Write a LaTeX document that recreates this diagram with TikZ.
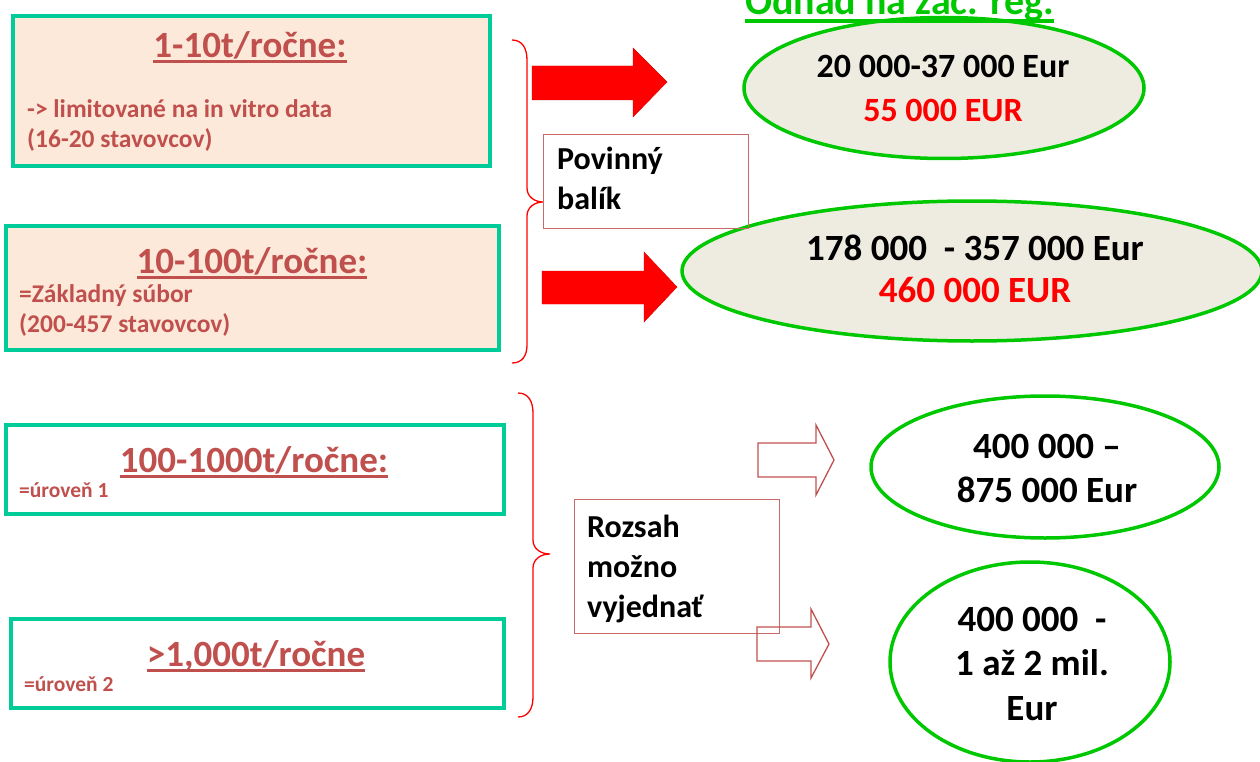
\documentclass[tikz,border=0pt]{standalone}
\usepackage{fontspec}
\setmainfont{Carlito}
\usetikzlibrary{shapes.geometric}
\definecolor{boxgreen}{RGB}{0,204,153}
\definecolor{boxfill}{RGB}{253,233,217}
\definecolor{brick}{RGB}{192,80,77}
\definecolor{ellfill}{RGB}{238,236,225}
\definecolor{ellgreen}{RGB}{0,200,0}
\definecolor{arrred}{RGB}{255,0,0}
\tikzset{
  tonbox/.style={draw=boxgreen, line width=4pt, fill=boxfill, inner sep=0pt, anchor=north west},
  tonbox2/.style={draw=boxgreen, line width=4pt, fill=white, inner sep=0pt, anchor=north west},
  ttl/.style={font=\bfseries\fontsize{37}{41}\selectfont, text=brick, inner sep=0pt, anchor=base},
  subtx/.style={font=\bfseries\fontsize{25.5}{29}\selectfont, text=brick, inner sep=0pt, anchor=base west},
  subsm/.style={font=\bfseries\fontsize{21.5}{25}\selectfont, text=brick, inner sep=0pt, anchor=base west},
  uline/.style={draw=brick, line width=3pt},
  brace/.style={draw=arrred, line width=1.3pt},
  ell/.style={ellipse, draw=ellgreen, line width=3.5pt, inner sep=0pt},
  etx/.style={font=\bfseries\fontsize{37}{41}\selectfont, text=black, inner sep=0pt, anchor=base},
  etxa/.style={font=\bfseries\fontsize{34}{38}\selectfont, text=black, inner sep=0pt, anchor=base},
  lbox/.style={draw=brick!85, line width=1.2pt, inner sep=0pt, anchor=north west},
  ltx/.style={font=\bfseries\fontsize{32}{36}\selectfont, text=black, inner sep=0pt, anchor=base west},
  redarrow/.style={fill=arrred, draw=arrred!85!black, line width=0.4pt},
  openarrow/.style={draw=brick, line width=1.3pt},
}
\begin{document}
\begin{tikzpicture}[x=1pt,y=-1pt]
\useasboundingbox (0,0) rectangle (1260,762);
% tonnage boxes
\node[tonbox, minimum width=477, minimum height=150] (b1) at (11,14) {};
\node[tonbox, minimum width=493, minimum height=124] (b2) at (4,224) {};
\node[tonbox2, minimum width=498, minimum height=89] (b3) at (4,423) {};
\node[tonbox2, minimum width=493, minimum height=89] (b4) at (9,617) {};
% titles
\node[ttl] (t1) at (250,58) {1-10t/ročne:};
\node[ttl] (t2) at (252,273) {10-100t/ročne:};
\node[ttl] (t3) at (254,472) {100-1000t/ročne:};
\node[ttl] (t4) at (256,666) {>1,000t/ročne};
\foreach \t in {t1,t2,t3,t4}{
  \draw[uline] ([yshift=-4pt]\t.base west) -- ([yshift=-4pt]\t.base east);
}
% sub texts
\node[subtx] (s1a) at (27,118) {-> limitované na in vitro data};
\node[subtx] (s1b) at (27,148) {(16-20 stavovcov)};
\node[subtx] (s2a) at (19,302) {=Základný súbor};
\node[subtx] (s2b) at (19,332) {(200-457 stavovcov)};
\node[subsm] (s3) at (19,497) {=úroveň 1};
\node[subsm] (s4) at (24,691) {=úroveň 2};
% braces
\draw[brace] (512,40) .. controls (522,40) and (527,48) .. (527,60) -- (527,188)
  .. controls (527,197) and (535,202) .. (543,202)
  .. controls (535,202) and (527,207) .. (527,216) -- (527,345)
  .. controls (527,356) and (522,363) .. (512,363);
\draw[brace] (518,393) .. controls (528,393) and (533,401) .. (533,413) -- (533,540)
  .. controls (533,549) and (541,554) .. (550,554)
  .. controls (541,554) and (533,559) .. (533,568) -- (533,697)
  .. controls (533,709) and (528,717) .. (518,717);
% ellipses
\node[ell, fill=ellfill, minimum width=400, minimum height=141] (e1) at (944,88) {};
\node[ell, fill=ellfill, minimum width=580, minimum height=140] (e2) at (972,271) {};
\node[ell, minimum width=348, minimum height=142] (e3) at (1045,467) {};
\node[ell, minimum width=280, minimum height=200] (e4) at (1030,662) {};
% label boxes
\node[lbox, minimum width=205, minimum height=94] (pb) at (543,134) {};
\node[lbox, minimum width=205, minimum height=134] (rz) at (574,499) {};
\node[ltx] (pb1) at (557,170) {Povinný};
\node[ltx] (pb2) at (557,210) {balík};
\node[ltx] (rz1) at (587,537) {Rozsah};
\node[ltx] (rz2) at (587,577) {možno};
\node[ltx] (rz3) at (587,617) {vyjednať};
% block arrows
\draw[redarrow] (532,66) -- (633,66) -- (633,48) -- (667,82) -- (633,117) -- (633,100) -- (532,100) -- cycle;
\draw[redarrow] (542,271) -- (644,271) -- (644,252) -- (677,287) -- (644,322) -- (644,304) -- (542,304) -- cycle;
\draw[openarrow] (758,443) -- (816,443) -- (816,425) -- (834,460) -- (816,495) -- (816,477) -- (758,477) -- cycle;
\draw[openarrow] (757,627) -- (811,627) -- (811,609) -- (829,644) -- (811,678) -- (811,661) -- (757,661) -- cycle;
% ellipse texts
\node[etxa] (e1a) at (943,78) {20 000-37 000 Eur};
\node[etxa, text=arrred] (e1b) at (943,122) {55 000 EUR};
\node[etx] (e2a) at (975,260) {178 000\ \ - 357 000 Eur};
\node[etx, text=arrred] (e2b) at (975,302) {460 000 EUR};
\node[etx] (e3a) at (1047,458) {400 000 –};
\node[etx] (e3b) at (1047,502) {875 000 Eur};
\node[etx] (e4a) at (1032,631) {400 000\ \ -};
\node[etx] (e4b) at (1032,675) {1 až 2 mil.};
\node[etx] (e4c) at (1032,720) {Eur};
% heading
\node[font=\bfseries\fontsize{40}{44}\selectfont, text=ellgreen, inner sep=0pt, anchor=base west] (hd) at (745,15) {Odhad na zač. reg.};
\draw[draw=ellgreen, line width=3.5pt] ([yshift=-6pt]hd.base west) -- ([yshift=-6pt]hd.base east);
\end{tikzpicture}
\end{document}
